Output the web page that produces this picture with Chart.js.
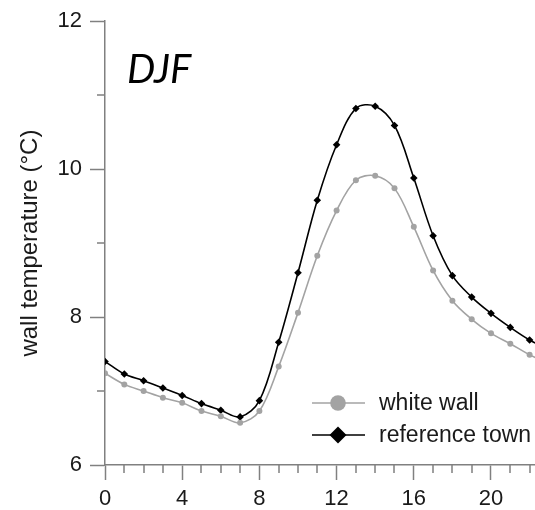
<!DOCTYPE html>
<html>
<head>
<meta charset="utf-8">
<script src="https://cdn.jsdelivr.net/npm/chart.js@4/dist/chart.umd.min.js"></script>
<style>
  html, body { margin: 0; padding: 0; background: #fff; }
  #wrap { width: 535px; height: 510px; }
</style>
</head>
<body>
<div id="wrap"><canvas id="wallChart" width="535" height="510"></canvas></div>
<script>
// Datos (temperatura de pared, DJF)
const hours = [0, 1, 2, 3, 4, 5, 6, 7, 8, 9, 10, 11, 12, 13, 14, 15, 16, 17, 18, 19, 20, 21, 22, 23];
const whiteWall = [7.24, 7.09, 7.00, 6.91, 6.84, 6.73, 6.66, 6.57, 6.73, 7.33, 8.06, 8.83,
                   9.44, 9.85, 9.91, 9.74, 9.22, 8.63, 8.22, 7.97, 7.78, 7.64, 7.49, 7.37];
const referenceTown = [7.40, 7.23, 7.14, 7.04, 6.94, 6.83, 6.74, 6.65, 6.87, 7.66, 8.60, 9.58,
                       10.33, 10.82, 10.85, 10.59, 9.88, 9.10, 8.56, 8.27, 8.05, 7.86, 7.69, 7.56];
const xTicks = [0, 4, 8, 12, 16, 20];
const yTicks = [6, 8, 10, 12];
const yMinorTicks = [7, 9, 11];
const seasonLabel = 'DJF';
const seriesNames = ['white wall', 'reference town'];

const axisGray = '#808080';
const textColor = '#1a1a1a';

// Ticks menores (sin etiqueta, mas cortos)
const minorTicks = {
    id: 'minorTicks',
    afterDraw(chart) {
        const { ctx, scales: { x, y } } = chart;
        ctx.save();
        ctx.strokeStyle = axisGray;
        ctx.lineWidth = 1.5;
        ctx.beginPath();
        hours.forEach(h => {
            if (h % 4 === 0 || h > x.max) return;
            const px = Math.round(x.getPixelForValue(h));
            ctx.moveTo(px, x.top);
            ctx.lineTo(px, x.top + 8);
        });
        yMinorTicks.forEach(v => {
            const py = Math.round(y.getPixelForValue(v));
            ctx.moveTo(y.right - 8, py);
            ctx.lineTo(y.right, py);
        });
        ctx.stroke();
        ctx.restore();
    }
};

// Etiqueta de estacion y leyenda dentro del area
const overlay = {
    id: 'overlay',
    afterDraw(chart) {
        const ctx = chart.ctx;
        ctx.save();
        ctx.fillStyle = '#000';
        ctx.font = 'italic 40px Lato, "Open Sans", sans-serif';
        ctx.textBaseline = 'alphabetic';
        ctx.textAlign = 'left';
        ctx.fillText(seasonLabel, 127, 83);

        const rows = [403, 435];
        chart.data.datasets.forEach((ds, i) => {
            const yy = rows[i];
            ctx.strokeStyle = ds.borderColor;
            ctx.lineWidth = 1.5;
            ctx.beginPath();
            ctx.moveTo(312, yy);
            ctx.lineTo(365, yy);
            ctx.stroke();
            ctx.fillStyle = ds.pointBackgroundColor;
            ctx.beginPath();
            if (ds.pointStyle === 'rectRot') {
                ctx.moveTo(338, yy - 8.5);
                ctx.lineTo(346.5, yy);
                ctx.lineTo(338, yy + 8.5);
                ctx.lineTo(329.5, yy);
                ctx.closePath();
            } else {
                ctx.arc(338, yy, 7.8, 0, Math.PI * 2);
            }
            ctx.fill();
            ctx.fillStyle = textColor;
            ctx.font = '23px "Liberation Sans", Arial, sans-serif';
            ctx.textBaseline = 'middle';
            ctx.fillText(ds.label, 379, yy + 1);
        });
        ctx.restore();
    }
};

const ctx = document.getElementById('wallChart').getContext('2d');
const wallChart = new Chart(ctx, {
    type: 'line',
    data: {
        datasets: [
            {
                label: seriesNames[0],
                data: hours.map((h, i) => ({ x: h, y: whiteWall[i] })),
                borderColor: '#a3a3a3',
                backgroundColor: '#a3a3a3',
                pointBackgroundColor: '#a3a3a3',
                pointBorderWidth: 0,
                pointStyle: 'circle',
                pointRadius: 3,
                borderWidth: 1.6,
                tension: 0.35
            },
            {
                label: seriesNames[1],
                data: hours.map((h, i) => ({ x: h, y: referenceTown[i] })),
                borderColor: '#000000',
                backgroundColor: '#000000',
                pointBackgroundColor: '#000000',
                pointBorderWidth: 0,
                pointStyle: 'rectRot',
                pointRadius: 3.8,
                borderWidth: 1.6,
                tension: 0.35
            }
        ]
    },
    options: {
        responsive: false,
        animation: false,
        devicePixelRatio: 1,
        layout: { padding: { top: 20, right: 0, bottom: 0, left: 0 }, autoPadding: false },
        plugins: {
            legend: { display: false },
            tooltip: { enabled: false }
        },
        scales: {
            x: {
                type: 'linear',
                min: 0,
                max: 22.28,
                afterBuildTicks: s => { s.ticks = xTicks.map(v => ({ value: v })); },
                afterFit: s => { s.height = 45; },
                ticks: {
                    font: { family: '"Liberation Sans", Arial, sans-serif', size: 22 },
                    color: textColor,
                    padding: 6,
                    maxRotation: 0
                },
                grid: {
                    drawOnChartArea: false,
                    tickLength: 15,
                    tickColor: axisGray,
                    tickWidth: 1.5
                },
                border: { color: axisGray, width: 1.5 }
            },
            y: {
                min: 6,
                max: 12,
                afterBuildTicks: s => { s.ticks = yTicks.map(v => ({ value: v })); },
                afterFit: s => { s.width = 105; },
                ticks: {
                    font: { family: '"Liberation Sans", Arial, sans-serif', size: 22 },
                    color: textColor,
                    padding: 8
                },
                grid: {
                    drawOnChartArea: false,
                    tickLength: 15,
                    tickColor: axisGray,
                    tickWidth: 1.5
                },
                border: { color: axisGray, width: 1.5 },
                title: {
                    display: true,
                    text: 'wall temperature (°C)',
                    font: { family: '"Liberation Sans", Arial, sans-serif', size: 24 },
                    color: textColor,
                    padding: { top: 16, bottom: 0 }
                }
            }
        }
    },
    plugins: [minorTicks, overlay]
});
</script>
</body>
</html>
